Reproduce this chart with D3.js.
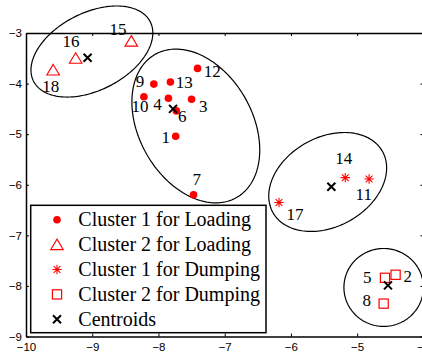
<!DOCTYPE html>
<html>
<head>
<meta charset="utf-8">
<script src="https://cdn.jsdelivr.net/npm/d3@7"></script>
<style>
  body { margin: 0; background: #fff; }
  svg { display: block; }
</style>
</head>
<body>
<div id="chart"></div>
<script>
// points: [label, x, y]
const loadCluster1 = [
  [1, -7.74, -5.04], [3, -7.50, -4.31], [4, -7.85, -4.29], [6, -7.73, -4.54],
  [7, -7.47, -6.20], [9, -8.07, -4.01], [10, -8.22, -4.26], [12, -7.41, -3.70],
  [13, -7.82, -3.97],
]
const loadCluster2 = [[15, -8.41, -3.16], [16, -9.25, -3.50], [18, -9.59, -3.73]]
const dumpCluster1 = [[11, -4.82, -5.885], [14, -5.18, -5.86], [17, -6.18, -6.35]]
const dumpCluster2 = [[2, -4.42, -7.78], [5, -4.58, -7.84], [8, -4.60, -8.35]]
const centroids = [[-7.78, -4.50], [-9.07, -3.49], [-5.39, -6.04], [-4.535, -7.99]]

// ellipses: centre x, centre y, half width, half height, y-shift at right end (data units)
const ellipses = [
  [-9.005, -3.366, 0.92, 0.90, 0.366],
  [-7.436, -4.838, 0.965, 1.52, -0.474],
  [-5.445, -5.945, 0.89, 0.978, 0.277],
  [-4.600, -8.030, 0.60, 0.77, 0],
]

const xTicks = [-10, -9, -8, -7, -6, -5, -4]
const yTicks = [-9, -8, -7, -6, -5, -4, -3]
const legendLabels = [
  'Cluster 1 for Loading',
  'Cluster 2 for Loading',
  'Cluster 1 for Dumping',
  'Cluster 2 for Dumping',
  'Centroids',
]

// where each number sits next to its point: dx, dy (baseline), anchor
const labelPlace = {
  1: [-5.7, 7, 'end'], 3: [7.3, 12.4, 'start'], 4: [-6.6, 11.7, 'end'],
  6: [1.6, 10.7, 'start'], 7: [3.3, -9.7, 'middle'], 9: [-9.7, 3, 'end'],
  10: [-3.8, 15.7, 'middle'], 12: [6.3, 8.7, 'start'], 13: [5.3, 5.7, 'start'],
  15: [-4.7, -6, 'end'], 16: [-4.7, -11.3, 'middle'], 18: [-2.3, 22, 'middle'],
  11: [-5.3, 21, 'middle'], 14: [-1.4, -13.7, 'middle'], 17: [7.4, 17.7, 'start'],
  2: [8, 7, 'start'], 5: [-13.6, 5.3, 'end'], 8: [-12.6, 2.3, 'end'],
}

const width = 422
const height = 354
const red = '#ff0000'

const x = d3.scaleLinear().domain([-10, -4]).range([26, 423.4])
const y = d3.scaleLinear().domain([-9, -3]).range([336.5, 33])

const svg = d3.select('#chart').append('svg')
  .attr('width', width)
  .attr('height', height)

// marker drawers
const markers = {
  circle: g => g.append('circle').attr('r', 3.8).attr('fill', red),
  triangle: g => g.append('path').attr('d', 'M0,-5.5L6.3,5L-6.3,5Z')
    .attr('fill', 'none').attr('stroke', red).attr('stroke-width', 1.1),
  star: g => g.append('path').attr('d', 'M-4.7,0H4.7M0,-4.7V4.7M-3.4,-3.4L3.4,3.4M-3.4,3.4L3.4,-3.4')
    .attr('stroke', red).attr('stroke-width', 1.1),
  square: g => g.append('rect').attr('x', -4.6).attr('y', -4.6).attr('width', 9.2).attr('height', 9.2)
    .attr('fill', 'none').attr('stroke', red).attr('stroke-width', 1.2),
  cross: g => g.append('path').attr('d', 'M-4,-4L4,4M-4,4L4,-4')
    .attr('stroke', '#000').attr('stroke-width', 2),
}

// axes, MATLAB style box with inward ticks
const axisFont = g => g.selectAll('text')
  .attr('font-family', 'Liberation Sans, Arial, sans-serif')
  .attr('font-size', 11.5)
  .attr('fill', '#000')

const styleAxis = g => {
  g.select('.domain').attr('stroke', '#000').attr('stroke-width', 1.5)
  g.selectAll('.tick line').attr('stroke', '#000')
}

svg.append('g')
  .attr('transform', `translate(0,${y(-9)})`)
  .call(d3.axisBottom(x).tickValues(xTicks).tickSize(-3).tickSizeOuter(0).tickPadding(6).tickFormat(d3.format('d')))
  .call(styleAxis)
  .call(axisFont)

svg.append('g')
  .attr('transform', `translate(${x(-10)},0)`)
  .call(d3.axisLeft(y).tickValues(yTicks).tickSize(-3).tickSizeOuter(0).tickPadding(4).tickFormat(d3.format('d')))
  .call(styleAxis)
  .call(axisFont)

svg.append('g')
  .attr('transform', `translate(0,${y(-3)})`)
  .call(d3.axisTop(x).tickValues(xTicks).tickSize(-3).tickSizeOuter(0).tickFormat(''))
  .call(styleAxis)

svg.append('g')
  .attr('transform', `translate(${x(-4)},0)`)
  .call(d3.axisRight(y).tickValues(yTicks).tickSize(-3).tickSizeOuter(0).tickFormat(''))
  .call(styleAxis)

// cluster ellipses
const ellipseLine = d3.line().x(d => x(d[0])).y(d => y(d[1])).curve(d3.curveLinearClosed)
const steps = d3.range(0, 2 * Math.PI, Math.PI / 90)

svg.append('g')
  .selectAll('path')
  .data(ellipses)
  .join('path')
  .attr('d', ([cx, cy, rx, ry, k]) => {
    const v = Math.sqrt(ry * ry - k * k)
    return ellipseLine(steps.map(t => [cx + rx * Math.cos(t), cy + k * Math.cos(t) + v * Math.sin(t)]))
  })
  .attr('fill', 'none')
  .attr('stroke', '#000')
  .attr('stroke-width', 1.2)

// points
const groups = [
  [loadCluster1, 'circle'],
  [loadCluster2, 'triangle'],
  [dumpCluster1, 'star'],
  [dumpCluster2, 'square'],
]

groups.forEach(([pts, shape]) => {
  svg.append('g')
    .selectAll('g')
    .data(pts)
    .join('g')
    .attr('transform', d => `translate(${x(d[1])},${y(d[2])})`)
    .each(function() { markers[shape](d3.select(this)) })
})

svg.append('g')
  .selectAll('g')
  .data(centroids)
  .join('g')
  .attr('transform', d => `translate(${x(d[0])},${y(d[1])})`)
  .each(function() { markers.cross(d3.select(this)) })

// point numbers
const allPts = [].concat(loadCluster1, loadCluster2, dumpCluster1, dumpCluster2)
svg.append('g')
  .attr('font-family', 'Liberation Serif, Times New Roman, serif')
  .attr('font-size', 17)
  .attr('fill', '#000')
  .selectAll('text')
  .data(allPts)
  .join('text')
  .attr('x', d => x(d[1]) + labelPlace[d[0]][0])
  .attr('y', d => y(d[2]) + labelPlace[d[0]][1])
  .attr('text-anchor', d => labelPlace[d[0]][2])
  .text(d => d[0])

// legend
const legend = svg.append('g').attr('transform', 'translate(30.7,205.3)')
legend.append('rect')
  .attr('width', 235.3)
  .attr('height', 127.4)
  .attr('fill', '#fff')
  .attr('stroke', '#000')
  .attr('stroke-width', 1.5)

const legendShapes = ['circle', 'triangle', 'star', 'square', 'cross']
const rows = legend.selectAll('g')
  .data(legendLabels)
  .join('g')
  .attr('transform', (d, i) => `translate(0,${14.4 + i * 24.9})`)

rows.each(function(d, i) {
  const row = d3.select(this)
  markers[legendShapes[i]](row.append('g').attr('transform', 'translate(26.3,0)'))
  row.append('text')
    .attr('x', 47.6)
    .attr('dy', '0.33em')
    .attr('font-family', 'Liberation Serif, Times New Roman, serif')
    .attr('font-size', 20)
    .attr('fill', '#000')
    .text(d)
})
</script>
</body>
</html>
